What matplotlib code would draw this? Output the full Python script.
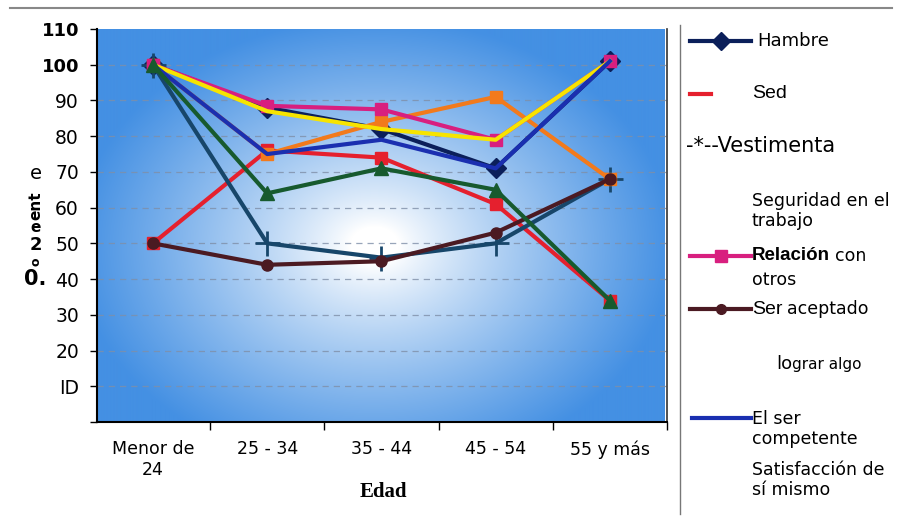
import numpy as np
import matplotlib
matplotlib.use("Agg")
import matplotlib.pyplot as plt
from matplotlib.lines import Line2D

categories = ["Menor de\n24", "25 - 34", "35 - 44", "45 - 54", "55 y más"]
hambre = [100, 88, 82, 71, 101]
sed = [50, 76, 74, 61, 34]
vestimenta = [100, 50, 46, 50, 68]
seguridad = [100, 75, 84, 91, 68]
relacion = [100, 88.5, 87.5, 79, 101]
ser_aceptado = [50, 44, 45, 53, 68]
lograr = [100, 87, 82, 79, 101]
competente = [100, 75, 79, 71, 101]
satisfaccion = [100, 64, 71, 65, 34]
yticks = [0, 10, 20, 30, 40, 50, 60, 70, 80, 90, 100, 110]
ytick_labels = ["", "ID", "20", "30", "40", "50", "60", "70", "80", "90", "100", "110"]

W, H = 898, 523
fig = plt.figure(figsize=(W / 100, H / 100), dpi=100)
fig.patch.set_facecolor("white")

L, R, T, B = 97, 667, 29, 422
ax = fig.add_axes([L / W, 1 - B / H, (R - L) / W, (B - T) / H])
ax.set_xlim(-0.49, 4.48)
ax.set_ylim(0, 110)

# radial gradient background
nx, ny = R - L, B - T
px = np.arange(nx)[None, :]
py = np.arange(ny)[:, None]
cx, cy = 375 - L, 245 - T
r = np.sqrt(((px - cx) / 1.25) ** 2 + ((py - cy) / 0.95) ** 2)
t = np.clip((r - 20) / 220, 0, 1) ** 0.85
blue = np.array([0x44, 0x90, 0xe3]) / 255
white = np.array([1.0, 1.0, 1.0])
img = white[None, None, :] * (1 - t[..., None]) + blue[None, None, :] * t[..., None]
ax.imshow(img, extent=(-0.49, 4.48, 0, 110), aspect="auto", zorder=0, origin="upper")

for yv in yticks[1:-1]:
    ax.axhline(yv, color="#7f8fa8", lw=0.9, ls=(0, (5, 4)), zorder=1, alpha=0.8)

x = np.arange(len(categories))
lw = 3.0
series = [
    (hambre, "#0b1f5a", "D", 10, {}),
    (sed, "#e5202e", "s", 9, {}),
    (vestimenta, "#17466a", "+", 18, {"markeredgewidth": 2.0}),
    (seguridad, "#f27a1c", "s", 9, {}),
    (relacion, "#d81f7f", "s", 9, {}),
    (ser_aceptado, "#4b1a22", "o", 8, {}),
    (lograr, "#f7e400", None, 0, {}),
    (competente, "#1a2fb0", None, 0, {}),
    (satisfaccion, "#175a2e", "^", 10, {}),
]
for i, (vals, col, mk, ms, kw) in enumerate(series):
    ax.plot(x, vals, color=col, lw=lw, marker=mk, markersize=ms, zorder=3 + i * 0.1, **kw)

ax.spines["top"].set_visible(False)
ax.spines["left"].set_linewidth(1.5)
ax.spines["bottom"].set_linewidth(1.5)
ax.spines["right"].set_linewidth(1.2)
ax.spines["right"].set_color("#333333")

ax.set_yticks(yticks)
ax.set_yticklabels(ytick_labels)
ax.set_xticks(x + 0.5, minor=False)
ax.set_xticklabels([])
ax.set_xticks(x, minor=True)
ax.set_xticklabels(categories, minor=True, fontsize=12.5, family="DejaVu Sans")
ax.tick_params(axis="x", which="minor", length=0, pad=13)
ax.tick_params(axis="x", which="major", length=6, width=1)
ax.tick_params(axis="y", length=5, width=1, labelsize=13.5, pad=8)
for lab in ax.get_yticklabels():
    lab.set_family("DejaVu Sans")
    if lab.get_text() in ("100", "110"):
        lab.set_fontweight("bold")
        lab.set_fontsize(13)

def fx(px_):
    return px_ / W

def fy(py_):
    return 1 - py_ / H

# x axis label
fig.text(fx(383), fy(492), "Edad", ha="center", va="center", fontsize=15,
         fontweight="bold", family=["Liberation Serif", "DejaVu Serif"])

# garbled y axis label
fig.text(fx(36), fy(174), "e", ha="center", va="center", fontsize=14, family="DejaVu Sans")
fig.text(fx(36), fy(206), "ent", ha="center", va="center", fontsize=11, rotation=90,
         fontweight="bold", family="DejaVu Sans")
fig.text(fx(36), fy(228), "e", ha="center", va="center", fontsize=11, fontweight="bold", family="DejaVu Sans")
fig.text(fx(36), fy(245), "2", ha="center", va="center", fontsize=13, fontweight="bold", family="DejaVu Sans")
fig.text(fx(36), fy(262), "o", ha="center", va="center", fontsize=9, rotation=90, fontweight="bold", family="DejaVu Sans")
fig.text(fx(35), fy(279), "0.", ha="center", va="center", fontsize=15, fontweight="bold", family="DejaVu Sans")

# frame lines
fig.add_artist(Line2D([fx(10), fx(892)], [fy(8), fy(8)], color="#888888", lw=1.5))
fig.add_artist(Line2D([fx(680), fx(680)], [fy(25), fy(514)], color="#777777", lw=1.0))

# legend (manual)
lfont = "DejaVu Sans"
def handle(y, col, mk=None, ms=0, x0=690, x1=751):
    fig.add_artist(Line2D([fx(x0), fx(x1)], [fy(y), fy(y)], color=col, lw=3))
    if mk:
        fig.add_artist(Line2D([fx((x0 + x1) / 2)], [fy(y)], color=col, marker=mk,
                              markersize=ms, lw=0))

renderer = fig.canvas.get_renderer()

def two_part(xp, yp, first, second, kw1, kw2, gap=4):
    t1 = fig.text(fx(xp), fy(yp), first, va="center", **kw1)
    bb = t1.get_window_extent(renderer=renderer)
    fig.text(fx(bb.x1 + gap), fy(yp), second, va="center", **kw2)

handle(41, "#0b1f5a", "D", 9)
fig.text(fx(757), fy(41), "Hambre", va="center", fontsize=13, family=lfont)
handle(94, "#e5202e", x0=690, x1=711)
fig.text(fx(752), fy(94), "Sed", va="center", fontsize=14, family="Liberation Sans")
fig.text(fx(686), fy(146), "-*--Vestimenta", va="center", fontsize=15, family=lfont)
fig.text(fx(752), fy(211), "Seguridad en el\ntrabajo", va="center", fontsize=12.5,
         family=lfont, linespacing=1.15)
handle(256, "#d81f7f", "s", 9)
two_part(752, 256, "Relación", "con",
         dict(fontsize=13.5, fontweight="bold", family="Liberation Sans"),
         dict(fontsize=12.5, family=lfont), gap=5)
fig.text(fx(752), fy(280), "otros", va="center", fontsize=12.5, family=lfont)
handle(309, "#4b1a22", "o", 7)
two_part(752, 309, "Ser", "aceptado",
         dict(fontsize=14, family="Liberation Sans"),
         dict(fontsize=12.5, family=lfont), gap=4)
two_part(776, 364, "lo", "grar algo",
         dict(fontsize=13, family=lfont),
         dict(fontsize=11, family=lfont), gap=0)
handle(418, "#1a2fb0", x0=692, x1=751)
fig.text(fx(752), fy(429), "El ser\ncompetente", va="center", fontsize=12.5,
         family=lfont, linespacing=1.15)
fig.text(fx(752), fy(480), "Satisfacción de\nsí mismo", va="center", fontsize=12.5,
         family=lfont, linespacing=1.15)

fig.savefig("out.png", dpi=100)
